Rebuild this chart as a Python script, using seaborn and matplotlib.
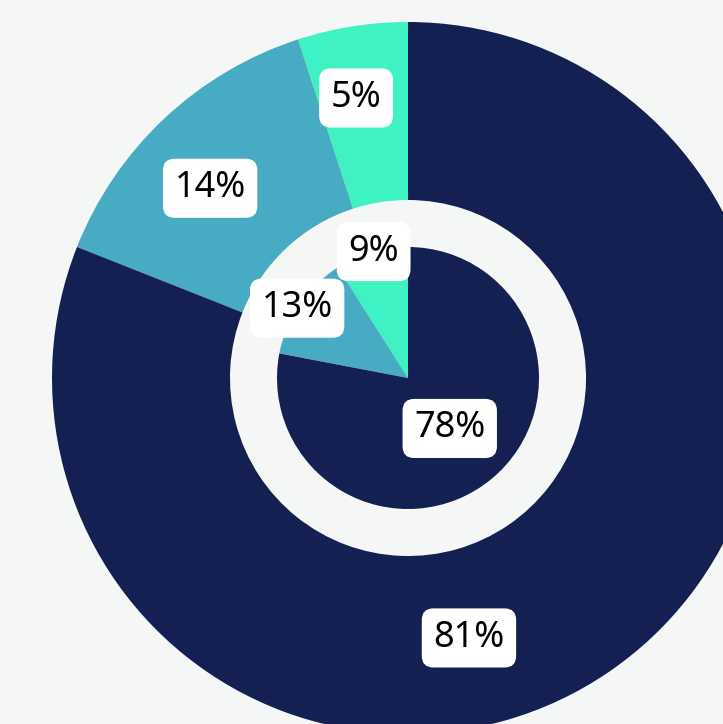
import numpy as np
import matplotlib
matplotlib.use("Agg")
import matplotlib.pyplot as plt
import seaborn as sns

# Data
categories = ["A", "B", "C"]
outer_values = [81, 14, 5]
inner_values = [78, 13, 9]
colors_hex = ["#152052", "#47abc4", "#3ff2c4"]

# label placement (angle offsets in degrees, radial fraction)
outer_label_r = [0.75, 0.77, 0.80]
outer_label_dang = [-21, 3, 1.5]
inner_label_r = [0.5, 1.0, 1.0]
inner_label_dang = [0, 2, -1]

sns.set_theme(style="white")
plt.rcParams["font.family"] = ["Noto Sans", "DejaVu Sans"]
bg = "#f5f7f7"
palette = sns.color_palette(colors_hex)

W, H = 723, 724
fig = plt.figure(figsize=(W / 100, H / 100), dpi=100, facecolor=bg)
ax = fig.add_axes([0, 0, 1, 1])
ax.set_facecolor(bg)

cx, cy = 408, 378
R_out = 356
R_hole = 178
R_in = 131

start = 90
order = [2, 1, 0]
ov = [outer_values[i] for i in order]
iv = [inner_values[i] for i in order]
cols = [palette[i] for i in order]

ax.pie(ov, colors=cols, radius=R_out, startangle=start, counterclock=True,
       wedgeprops=dict(width=R_out - R_hole, linewidth=0), center=(0, 0), frame=True)
ax.pie(iv, colors=cols, radius=R_in, startangle=start, counterclock=True,
       wedgeprops=dict(linewidth=0), center=(0, 0), frame=True)

ax.set_xlim(-cx, W - cx)
ax.set_ylim(-(H - cy), cy)
ax.set_aspect("equal")
ax.axis("off")

box = dict(boxstyle="round,pad=0.32,rounding_size=0.32", fc="white", ec="none")

def place(values, R, rfrac, dang, R0=None):
    total = sum(values)
    angs = {}
    a = start
    for i in order:
        span = values[i] / total * 360
        angs[i] = a + span / 2
        a += span
    for i in range(len(values)):
        ang = np.deg2rad(angs[i] + dang[i])
        if R0 is None:
            r = rfrac[i] * R
        else:
            r = (R0 + R) / 2 * rfrac[i] / 0.75
        ax.text(r * np.cos(ang), r * np.sin(ang), f"{values[i]}%", ha="center", va="center",
                fontsize=26, color="black", bbox=box)

place(outer_values, R_out, outer_label_r, outer_label_dang, R0=R_hole)
place(inner_values, R_in, inner_label_r, inner_label_dang)

fig.savefig("out.png", dpi=100, facecolor=bg)
